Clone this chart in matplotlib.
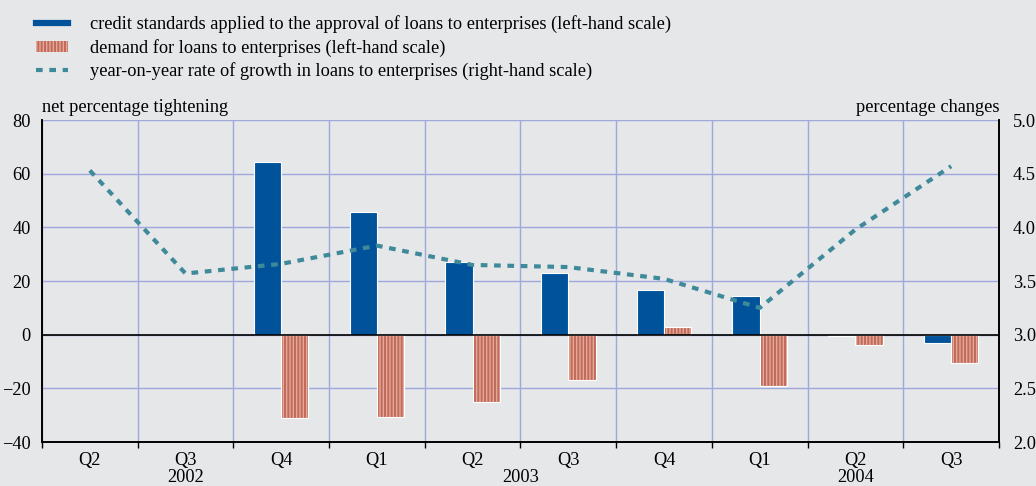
import numpy as np
import matplotlib.pyplot as plt
from matplotlib.patches import Patch
from matplotlib.lines import Line2D

plt.rcParams['font.family'] = ['Liberation Serif', 'DejaVu Serif']
plt.rcParams['hatch.linewidth'] = 1.4

quarters = ["Q2", "Q3", "Q4", "Q1", "Q2", "Q3", "Q4", "Q1", "Q2", "Q3"]
years = ["2002", "2003", "2004"]
year_pos = [1, 4.5, 8]
credit = [np.nan, np.nan, 64.5, 45.8, 27.2, 23.0, 16.8, 14.5, -0.6, -3.0]
demand = [np.nan, np.nan, -31.0, -30.6, -25.0, -16.8, 3.0, -19.0, -3.7, -10.5]
growth = [4.53, 3.57, 3.66, 3.83, 3.65, 3.63, 3.52, 3.25, 3.98, 4.57]

bg = '#e6e7e9'
blue = '#00529b'
red_dark = '#bf6a5a'
red_light = '#e6a898'
teal = '#3f8a9a'
grid_c = '#9ea9db'
fs = 13.2

fig = plt.figure(figsize=(10.36, 4.86), dpi=100, facecolor=bg)
ax = fig.add_axes([0.0405, 0.0905, 0.9238, 0.6625], facecolor=bg)
ax2 = ax.twinx()

x = np.arange(len(quarters))
w = 0.285
ax.bar(x - w / 2, credit, w, color=blue, edgecolor='white', lw=0.8, zorder=3)
ax.bar(x + w / 2, demand, w, color=red_light, edgecolor=red_dark, hatch='|||||', lw=0, zorder=3)
ax.bar(x + w / 2, demand, w, fill=False, edgecolor='white', lw=0.8, zorder=3)
ax.axhline(0, color='black', lw=1.2, zorder=4)

ax.set_xlim(-0.5, len(quarters) - 0.5)
ax.set_ylim(-40, 80)
ax.set_yticks(range(-40, 81, 20))
ax.set_xticks(np.arange(-0.5, len(quarters), 1))
ax.set_xticklabels([])
ax.grid(True, color=grid_c, lw=1.0, zorder=0)
ax.set_axisbelow(True)
ax.tick_params(axis='y', length=0, labelsize=fs, pad=8)
ax.tick_params(axis='x', length=4, direction='out', width=1)
for i, q in enumerate(quarters):
    ax.text(i, -0.03, q, transform=ax.get_xaxis_transform(), ha='center', va='top', fontsize=fs)
for p, yr in zip(year_pos, years):
    ax.text(p, -0.085, yr, transform=ax.get_xaxis_transform(), ha='center', va='top', fontsize=fs)

ax2.plot(x, growth, color=teal, lw=3, dashes=(1.6, 1.6), zorder=5)
ax2.set_ylim(2.0, 5.0)
ax2.set_yticks(np.arange(2.0, 5.01, 0.5))
ax2.set_yticklabels([f"{v:.1f}" for v in np.arange(2.0, 5.01, 0.5)])
ax2.tick_params(axis='y', length=0, labelsize=fs, pad=10)

for a in (ax, ax2):
    a.spines['top'].set_visible(False)
    for s in ('left', 'right', 'bottom'):
        a.spines[s].set_color('black')
        a.spines[s].set_linewidth(1.2)

ax.text(0.0, 1.012, "net percentage tightening", transform=ax.transAxes, ha='left', va='bottom', fontsize=fs)
ax.text(1.0, 1.012, "percentage changes", transform=ax.transAxes, ha='right', va='bottom', fontsize=fs)

handles = [
    Line2D([0], [0], color=blue, lw=4.5),
    Patch(facecolor=red_light, edgecolor=red_dark, hatch='|||||', lw=0),
    Line2D([0], [0], color=teal, lw=3, dashes=(1.6, 1.6)),
]
labels = [
    "credit standards applied to the approval of loans to enterprises (left-hand scale)",
    "demand for loans to enterprises (left-hand scale)",
    "year-on-year rate of growth in loans to enterprises (right-hand scale)",
]
fig.legend(handles, labels, loc='upper left', bbox_to_anchor=(0.022, 0.995), frameon=False,
           fontsize=fs, handlelength=1.75, handleheight=0.55, labelspacing=0.3, handletextpad=1.2,
           borderaxespad=0.3)

fig.savefig('out.png', dpi=100, facecolor=bg)
